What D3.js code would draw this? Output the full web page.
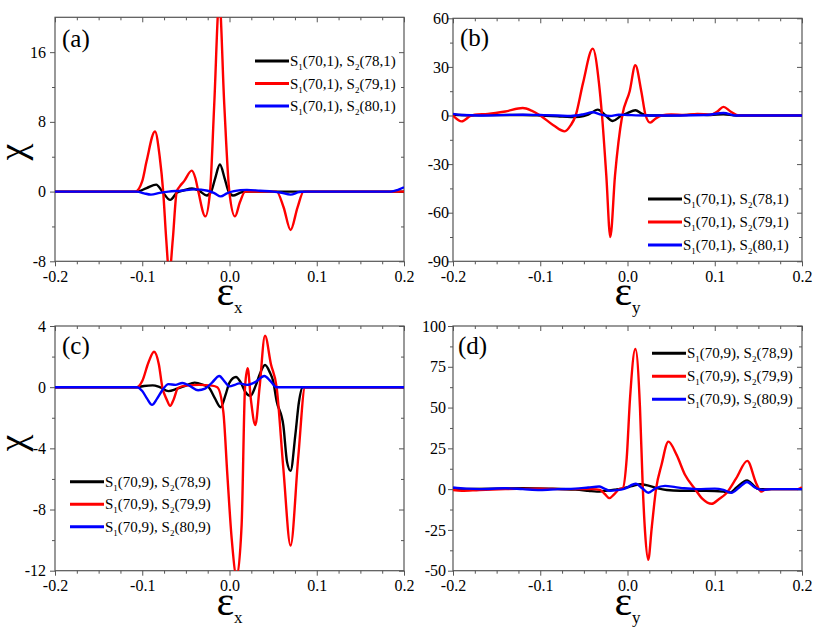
<!DOCTYPE html>
<html><head><meta charset="utf-8">
<script src="https://cdn.jsdelivr.net/npm/d3@7"></script>
<style>
html,body{margin:0;padding:0;background:#fff;}
svg{display:block;}
svg text{font-family:"Liberation Serif","Times New Roman","DejaVu Serif",serif;}
</style></head>
<body>
<svg id="chart" width="831" height="629"></svg>
<script>
// ---------- data ----------
const xTicks = [-0.2, -0.1, 0, 0.1, 0.2];
const xTickLabels = ["-0.2", "-0.1", "0.0", "0.1", "0.2"];
const xMinor = [-0.175, -0.15, -0.125, -0.075, -0.05, -0.025, 0.025, 0.05, 0.075, 0.125, 0.15, 0.175];

const aYTicks = [-8, 0, 8, 16];
const aYMinor = [-4, 4, 12];
const bYTicks = [-90, -60, -30, 0, 30, 60];
const bYMinor = [-75, -45, -15, 15, 45];
const cYTicks = [-12, -8, -4, 0, 4];
const cYMinor = [-10, -6, -2, 2];
const dYTicks = [-50, -25, 0, 25, 50, 75, 100];
const dYMinor = [-37.5, -12.5, 12.5, 37.5, 62.5, 87.5];

const legendA = [["70,1", "78,1"], ["70,1", "79,1"], ["70,1", "80,1"]];
const legendC = [["70,9", "78,9"], ["70,9", "79,9"], ["70,9", "80,9"]];

const aBlack = [[-0.2,0],[-0.106,0],[-0.095,0.4],[-0.084,0.8],[-0.077,0],[-0.068,-0.95],[-0.06,-0.1],[-0.052,0.15],[-0.043,0.35],[-0.035,0.1],[-0.026,-0.45],[-0.021,0],[-0.0165,1.5],[-0.011,3.1],[-0.0055,1.5],[-0.001,0],[0.004,-0.45],[0.012,-0.15],[0.018,0],[0.2,0]];
const aRed = [[-0.2,0],[-0.108,0],[-0.1,1.2],[-0.095,3.5],[-0.0854,6.9],[-0.08,4],[-0.076,0],[-0.0725,-5.5],[-0.069,-9.5],[-0.065,-5.5],[-0.0605,0],[-0.057,0.6],[-0.052,1.2],[-0.0433,2.4],[-0.039,1.5],[-0.0357,0],[-0.0277,-2.85],[-0.0223,0],[-0.0175,10],[-0.0117,22],[-0.006,10],[-0.0002,0],[0.0063,-2.85],[0.012,-1.2],[0.018,0],[0.054,0],[0.062,-1.8],[0.070,-4.4],[0.078,-1.8],[0.085,0],[0.2,0]];
const aBlue = [[-0.2,0],[-0.106,0],[-0.098,-0.2],[-0.09,-0.35],[-0.08,-0.15],[-0.07,0],[-0.055,0.1],[-0.04,0.25],[-0.025,0.1],[-0.017,-0.2],[-0.01,-0.55],[-0.003,-0.2],[0.005,0.05],[0.02,0.2],[0.035,0.1],[0.05,0],[0.058,-0.1],[0.070,-0.35],[0.08,-0.05],[0.088,0],[0.185,0],[0.193,0.2],[0.2,0.5]];

const bBlack = [[-0.2,0.5],[-0.18,0.2],[-0.12,0.3],[-0.1,0],[-0.08,-0.5],[-0.065,-1],[-0.055,-0.8],[-0.045,0.5],[-0.034,3.6],[-0.026,0.5],[-0.017,-3.4],[-0.008,-0.5],[0.0,1.5],[0.009,3.2],[0.017,1],[0.025,0],[0.06,0.2],[0.08,0.6],[0.095,0.3],[0.11,0.8],[0.125,0],[0.2,0]];
const bRed = [[-0.2,0],[-0.19,-3.6],[-0.18,-0.3],[-0.175,0.5],[-0.16,1],[-0.14,2.5],[-0.12,4.6],[-0.11,3],[-0.1,0],[-0.085,-6],[-0.072,-9.8],[-0.065,-6],[-0.0594,0],[-0.051,20],[-0.0398,41.3],[-0.0327,20],[-0.0292,0],[-0.0243,-37],[-0.0197,-75],[-0.0143,-37],[-0.006,0],[0.0025,15],[0.009,31],[0.0158,15],[0.0208,0],[0.026,-4.4],[0.032,-2],[0.039,0],[0.05,0.7],[0.065,0.3],[0.08,1],[0.095,0.5],[0.103,2.5],[0.110,5.3],[0.118,2.5],[0.128,0],[0.2,0]];
const bBlue = [[-0.2,1],[-0.19,0.3],[-0.17,0],[-0.12,0.5],[-0.1,0.3],[-0.08,0],[-0.065,-0.3],[-0.05,0.8],[-0.04,2],[-0.03,0.5],[-0.02,-0.3],[-0.01,0.5],[0.0,0.3],[0.02,0],[0.06,0],[0.09,0.3],[0.11,1.5],[0.125,0],[0.2,0]];

const cBlack = [[-0.2,0],[-0.106,0],[-0.098,0.08],[-0.088,0.12],[-0.08,0],[-0.07,-0.26],[-0.06,-0.1],[-0.05,0.1],[-0.04,0.3],[-0.03,0.15],[-0.024,0],[-0.017,-0.7],[-0.0101,-1.31],[-0.004,-0.4],[0.0,0.3],[0.0074,0.67],[0.013,0.3],[0.018,-0.3],[0.024,-0.57],[0.03,0.1],[0.035,0.9],[0.0407,1.45],[0.046,1.0],[0.05,0.4],[0.054,-0.9],[0.0617,-2.5],[0.066,-4.9],[0.070,-5.47],[0.0755,-3.1],[0.0795,-1],[0.084,0],[0.2,0]];
const cRed = [[-0.2,0],[-0.106,0],[-0.1,0.4],[-0.093,1.6],[-0.0865,2.32],[-0.081,1.5],[-0.077,0],[-0.072,-0.8],[-0.068,-1.22],[-0.064,-0.8],[-0.059,-0.05],[-0.05,0.1],[-0.035,0.15],[-0.02,0.1],[-0.014,0],[-0.0071,-1.6],[-0.0025,-5.7],[0.0025,-9.9],[0.0082,-12.4],[0.0139,-9],[0.0178,0],[0.0208,1.24],[0.0245,-0.8],[0.0296,-2.47],[0.0345,0],[0.0407,3.37],[0.0475,1.5],[0.054,0],[0.0617,-5.3],[0.070,-10.35],[0.0789,-4.5],[0.0866,0],[0.2,0]];
const cBlue = [[-0.2,0],[-0.106,0],[-0.1,-0.25],[-0.0945,-0.75],[-0.0888,-1.16],[-0.083,-0.75],[-0.077,-0.2],[-0.07,0.2],[-0.062,0.15],[-0.054,0.27],[-0.046,0.1],[-0.036,-0.2],[-0.028,-0.1],[-0.02,0.3],[-0.0117,0.73],[-0.006,0.4],[0.0,0.05],[0.006,0.15],[0.011,0.25],[0.02,0.15],[0.03,0.35],[0.04,0.73],[0.047,0.4],[0.054,0],[0.2,0]];

const dBlack = [[-0.2,0],[-0.15,0.3],[-0.12,0.5],[-0.09,0.3],[-0.06,-0.3],[-0.045,-1],[-0.035,-1.5],[-0.025,-1],[-0.015,-0.3],[-0.005,0.5],[0.005,1.8],[0.0146,3],[0.025,2],[0.035,0.5],[0.045,-0.5],[0.06,-1],[0.09,-1],[0.11,-1.5],[0.118,-2],[0.125,1],[0.137,5.3],[0.145,2],[0.15,0],[0.2,0]];
const dRed = [[-0.2,-0.5],[-0.19,-1],[-0.17,-0.5],[-0.14,0],[-0.1,0.3],[-0.07,0],[-0.04,0],[-0.0315,-0.5],[-0.026,-3],[-0.0208,-5.5],[-0.015,-3],[-0.0095,0],[-0.0055,0.5],[-0.0009,19],[0.0029,55.7],[0.009,85.9],[0.0143,50],[0.0174,2.6],[0.0201,-26],[0.0238,-43.3],[0.0277,-24],[0.0327,0],[0.039,14.9],[0.0468,29.1],[0.0563,21],[0.0659,8.8],[0.0774,0],[0.086,-6],[0.0965,-9],[0.105,-6],[0.1133,-2.5],[0.1247,6.7],[0.1373,17.3],[0.1476,3.5],[0.1533,-1.5],[0.158,-0.3],[0.165,0],[0.195,0],[0.2,1.2]];
const dBlue = [[-0.2,1],[-0.185,0.3],[-0.17,0],[-0.14,0.5],[-0.12,0],[-0.1,-0.5],[-0.08,0],[-0.06,0.3],[-0.045,1],[-0.0325,1.6],[-0.027,0.5],[-0.02,-1],[-0.012,-0.6],[-0.004,0.2],[0.0095,3.3],[0.017,0.5],[0.0238,-2.2],[0.032,0.5],[0.043,2],[0.055,1.2],[0.065,0.5],[0.08,0],[0.1,0.3],[0.11,-0.5],[0.119,-2.2],[0.128,1],[0.137,4.4],[0.146,1],[0.155,-0.5],[0.165,0],[0.2,0]];

const seriesColors = ["#000000", "#ff0000", "#0000ff"];

// ---------- layout ----------
const FONT = '"Liberation Serif","Times New Roman","DejaVu Serif",serif';
const panels = [
  {tag:"(a)", tagX:62, tagY:47, x0:55, x1:404, y0:17.3, y1:261.3, ydom:[-8,20], yT:aYTicks, yM:aYMinor, pad:4,
   series:[aBlack,aRed,aBlue], leg:legendA, legX:255, legY:61, legDy:22.5, sub:"x", chi:152},
  {tag:"(b)", tagX:460, tagY:46, x0:453, x1:802, y0:18.3, y1:261.3, ydom:[-90,60], yT:bYTicks, yM:bYMinor, pad:-1,
   series:[bBlack,bRed,bBlue], leg:legendA, legX:648, legY:199, legDy:23, sub:"y", chi:null},
  {tag:"(c)", tagX:62, tagY:354, x0:55, x1:404, y0:326, y1:570.7, ydom:[-12,4], yT:cYTicks, yM:cYMinor, pad:4,
   series:[cBlack,cRed,cBlue], leg:legendC, legX:70, legY:481.7, legDy:22.5, sub:"x", chi:443},
  {tag:"(d)", tagX:458, tagY:354, x0:453, x1:802, y0:326, y1:570.7, ydom:[-50,100], yT:dYTicks, yM:dYMinor, pad:2,
   series:[dBlack,dRed,dBlue], leg:legendC, legX:652, legY:353.3, legDy:23, sub:"y", chi:null}
];

const svg = d3.select("#chart");
const axisColor = "#555";

panels.forEach((p, i) => {
  const x = d3.scaleLinear().domain([-0.2, 0.2]).range([p.x0, p.x1]);
  const y = d3.scaleLinear().domain(p.ydom).range([p.y1, p.y0]);
  const g = svg.append("g");

  const clipId = "clip" + i;
  svg.append("clipPath").attr("id", clipId).append("rect")
    .attr("x", p.x0).attr("y", p.y0).attr("width", p.x1 - p.x0).attr("height", p.y1 - p.y0);

  const ax = (tr, axis) => g.append("g").attr("transform", tr).call(axis);

  // bottom axis: outward ticks with labels
  ax(`translate(0,${p.y1})`, d3.axisBottom(x).tickValues(xTicks).tickSize(5).tickPadding(4)
      .tickFormat((d, k) => xTickLabels[k]));
  ax(`translate(0,${p.y1})`, d3.axisBottom(x).tickValues(xMinor).tickSize(3).tickFormat(""));
  // top axis: inward ticks
  ax(`translate(0,${p.y0})`, d3.axisBottom(x).tickValues(xTicks).tickSize(5).tickFormat(""));
  ax(`translate(0,${p.y0})`, d3.axisBottom(x).tickValues(xMinor).tickSize(3).tickFormat(""));
  // left axis: outward ticks with labels
  ax(`translate(${p.x0},0)`, d3.axisLeft(y).tickValues(p.yT).tickSize(5).tickPadding(p.pad)
      .tickFormat(d => String(d)));
  ax(`translate(${p.x0},0)`, d3.axisLeft(y).tickValues(p.yM).tickSize(3).tickFormat(""));
  // right axis: inward ticks
  ax(`translate(${p.x1},0)`, d3.axisLeft(y).tickValues(p.yT).tickSize(5).tickFormat(""));
  ax(`translate(${p.x1},0)`, d3.axisLeft(y).tickValues(p.yM).tickSize(3).tickFormat(""));

  g.selectAll(".domain").remove();
  g.selectAll("g").attr("font-family", FONT);
  g.selectAll(".tick line").attr("stroke", axisColor).attr("stroke-width", 1);
  g.selectAll(".tick text").attr("fill", "#000").attr("font-size", 16).attr("font-family", FONT);

  // frame
  g.append("rect").attr("x", p.x0).attr("y", p.y0).attr("width", p.x1 - p.x0).attr("height", p.y1 - p.y0)
    .attr("fill", "none").attr("stroke", axisColor).attr("stroke-width", 1.2);

  // curves
  const line = d3.line().x(d => x(d[0])).y(d => y(d[1])).curve(d3.curveMonotoneX);
  const cg = g.append("g").attr("clip-path", `url(#${clipId})`);
  p.series.forEach((s, k) => {
    cg.append("path").attr("d", line(s)).attr("fill", "none")
      .attr("stroke", seriesColors[k]).attr("stroke-width", 2.4).attr("stroke-linejoin", "round");
  });

  // legend
  p.leg.forEach((l, k) => {
    const yy = p.legY + k * p.legDy;
    g.append("line").attr("x1", p.legX).attr("x2", p.legX + 34).attr("y1", yy).attr("y2", yy)
      .attr("stroke", seriesColors[k]).attr("stroke-width", 3);
    const t = g.append("text").attr("x", p.legX + 35).attr("y", yy + 5)
      .attr("font-family", FONT).attr("font-size", 15);
    t.append("tspan").text("S");
    t.append("tspan").attr("dy", 4).attr("font-size", 9).text("1");
    t.append("tspan").attr("dy", -4).text(`(${l[0]}), S`);
    t.append("tspan").attr("dy", 4).attr("font-size", 9).text("2");
    t.append("tspan").attr("dy", -4).text(`(${l[1]})`);
  });

  // panel tag
  g.append("text").attr("x", p.tagX).attr("y", p.tagY).attr("font-family", FONT)
    .attr("font-size", 25).text(p.tag);

  // x axis label
  const xl = g.append("text").attr("x", (p.x0 + p.x1) / 2).attr("y", p.y1 + 44)
    .attr("text-anchor", "middle").attr("font-family", FONT).attr("font-size", 42);
  xl.append("tspan").text("ε");
  xl.append("tspan").attr("dy", 8).attr("font-size", 17).text(p.sub);

  // y axis label
  if (p.chi !== null) {
    g.append("text").attr("transform", `translate(25,${p.chi}) rotate(-90)`)
      .attr("text-anchor", "middle").attr("font-family", FONT).attr("font-size", 38).text("χ");
  }
});
</script>
</body></html>
